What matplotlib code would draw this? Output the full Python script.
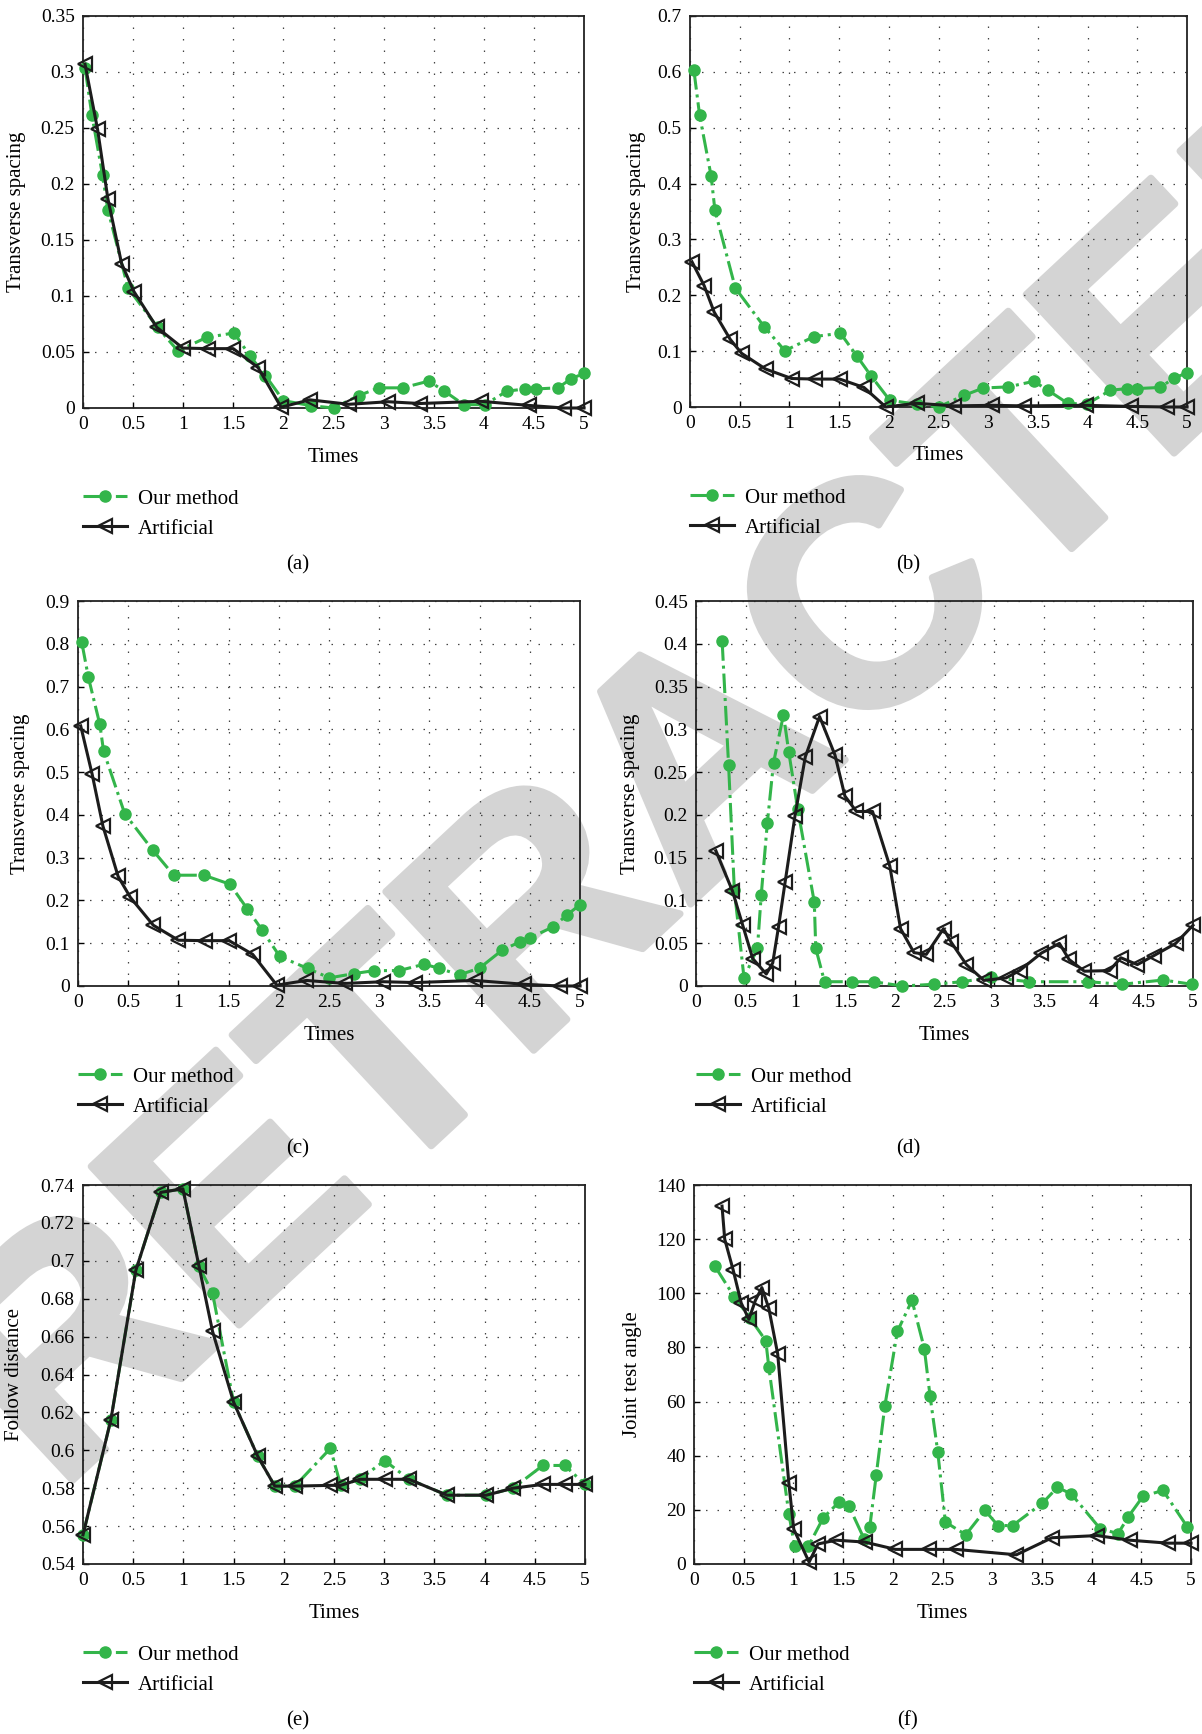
import numpy as np
import matplotlib
matplotlib.use("Agg")
import matplotlib.pyplot as plt
import matplotlib.patheffects as pe
from matplotlib.ticker import FormatStrFormatter

plt.rcParams['font.family'] = ['Liberation Serif', 'DejaVu Serif']

GREEN = '#33b54a'
BLACK = '#1c1c1c'

x_ticks = [0, 0.5, 1, 1.5, 2, 2.5, 3, 3.5, 4, 4.5, 5]

# (a)
a_our_x = [0.02, 0.088, 0.195, 0.248, 0.45, 0.744, 0.947, 1.233, 1.508, 1.67, 1.82, 2.0, 2.28, 2.5,
           2.75, 2.95, 3.19, 3.45, 3.6, 3.8, 4.01, 4.23, 4.41, 4.52, 4.74, 4.87, 5.0]
a_our_y = [0.304, 0.262, 0.208, 0.177, 0.107, 0.072, 0.051, 0.063, 0.067, 0.046, 0.029, 0.0066, 0.002, 0.0,
           0.011, 0.018, 0.018, 0.024, 0.0155, 0.003, 0.003, 0.015, 0.017, 0.017, 0.018, 0.026, 0.031]
a_art_x = [0.02, 0.145, 0.248, 0.385, 0.508, 0.737, 0.996, 1.252, 1.5, 1.748, 1.977, 2.263, 2.653,
           3.046, 3.36, 3.97, 4.45, 4.8, 5.0]
a_art_y = [0.307, 0.249, 0.187, 0.129, 0.104, 0.072, 0.0535, 0.053, 0.053, 0.036, 0.0007, 0.0073, 0.0033,
           0.0056, 0.004, 0.006, 0.0023, 0.0, 0.0]
a_yticks = [0, 0.05, 0.1, 0.15, 0.2, 0.25, 0.3, 0.35]

# (b)
b_our_x = [0.039, 0.097, 0.212, 0.251, 0.456, 0.745, 0.954, 1.247, 1.514, 1.68, 1.82, 2.01, 2.28, 2.5,
           2.76, 2.95, 3.2, 3.46, 3.6, 3.8, 3.99, 4.23, 4.4, 4.5, 4.73, 4.87, 5.0]
b_our_y = [0.603, 0.522, 0.414, 0.352, 0.213, 0.144, 0.1007, 0.126, 0.132, 0.091, 0.056, 0.012, 0.005, 0.0,
           0.021, 0.034, 0.036, 0.046, 0.030, 0.0066, 0.005, 0.030, 0.033, 0.033, 0.035, 0.052, 0.061]
b_art_x = [0.02, 0.143, 0.243, 0.405, 0.52, 0.76, 1.023, 1.26, 1.506, 1.75, 1.97, 2.28, 2.66, 3.04,
           3.36, 3.98, 4.44, 4.8, 5.0]
b_art_y = [0.26, 0.217, 0.170, 0.121, 0.096, 0.068, 0.051, 0.050, 0.050, 0.035, 0.0, 0.0066, 0.002, 0.003,
           0.002, 0.003, 0.001, 0.0, 0.0]
b_yticks = [0, 0.1, 0.2, 0.3, 0.4, 0.5, 0.6, 0.7]

# (c)
c_our_x = [0.038, 0.103, 0.217, 0.255, 0.465, 0.743, 0.953, 1.254, 1.513, 1.684, 1.83, 2.01, 2.287, 2.504,
           2.75, 2.95, 3.197, 3.45, 3.6, 3.8, 4.0, 4.226, 4.4, 4.505, 4.73, 4.87, 5.0]
c_our_y = [0.803, 0.722, 0.612, 0.549, 0.403, 0.318, 0.259, 0.259, 0.238, 0.181, 0.132, 0.069, 0.041, 0.019,
           0.029, 0.036, 0.036, 0.051, 0.041, 0.026, 0.042, 0.084, 0.103, 0.113, 0.138, 0.166, 0.19]
c_art_x = [0.027, 0.141, 0.248, 0.4, 0.522, 0.75, 1.0, 1.265, 1.505, 1.74, 1.98, 2.275, 2.656, 3.04,
           3.36, 3.95, 4.447, 4.8, 5.0]
c_art_y = [0.608, 0.495, 0.374, 0.256, 0.207, 0.142, 0.107, 0.106, 0.106, 0.074, 0.002, 0.013, 0.006, 0.010,
           0.008, 0.013, 0.004, 0.0, 0.0]
c_yticks = [0, 0.1, 0.2, 0.3, 0.4, 0.5, 0.6, 0.7, 0.8, 0.9]

# (d)
d_our_x = [0.263, 0.328, 0.386, 0.483, 0.618, 0.656, 0.718, 0.78, 0.88, 0.934, 1.023, 1.19, 1.205, 1.293,
           1.571, 1.788, 2.077, 2.394, 2.676, 2.97, 3.35, 3.946, 4.286, 4.7, 4.99]
d_our_y = [0.403, 0.258, 0.112, 0.0095, 0.044, 0.106, 0.191, 0.261, 0.317, 0.273, 0.207, 0.098, 0.044, 0.005,
           0.005, 0.005, 0.0, 0.002, 0.005, 0.010, 0.005, 0.005, 0.002, 0.007, 0.002]
d_art_x = [0.2, 0.367, 0.47, 0.571, 0.707, 0.772, 0.83, 0.896, 0.996, 1.1, 1.243, 1.398, 1.498, 1.614,
           1.776, 1.95, 2.058, 2.193, 2.317, 2.49, 2.568, 2.72, 2.896, 3.12, 3.255, 3.475, 3.656, 3.753,
           3.907, 4.16, 4.274, 4.44, 4.606, 4.826, 5.0]
d_art_y = [0.158, 0.111, 0.071, 0.032, 0.014, 0.027, 0.069, 0.121, 0.199, 0.268, 0.315, 0.270, 0.222, 0.204,
           0.204, 0.140, 0.067, 0.039, 0.037, 0.067, 0.051, 0.025, 0.0065, 0.0095, 0.018, 0.0385, 0.0498, 0.031,
           0.0173, 0.018, 0.033, 0.025, 0.0355, 0.0498, 0.071]
d_yticks = [0, 0.05, 0.1, 0.15, 0.2, 0.25, 0.3, 0.35, 0.4, 0.45]

# (e)
e_x = [0.0, 0.278, 0.526, 0.774, 0.995, 1.156, 1.29, 1.5, 1.74, 1.91, 2.11, 2.464, 2.567, 2.757,
       3.005, 3.246, 3.627, 4.016, 4.283, 4.58, 4.798, 5.0]
e_our_y = [0.5554, 0.6162, 0.6949, 0.7361, 0.738, 0.697, 0.683, 0.6254, 0.5969, 0.5811, 0.5811, 0.601, 0.5815,
           0.5847, 0.5946, 0.5847, 0.5763, 0.5763, 0.580, 0.592, 0.592, 0.582]
e_art_y = [0.5554, 0.6162, 0.6949, 0.7361, 0.738, 0.697, 0.6628, 0.6254, 0.5969, 0.5811, 0.5811, 0.5815, 0.5815,
           0.5847, 0.5847, 0.5847, 0.5763, 0.5763, 0.580, 0.582, 0.582, 0.582]
e_yticks = [0.54, 0.56, 0.58, 0.6, 0.62, 0.64, 0.66, 0.68, 0.7, 0.72, 0.74]

# (f)
f_our_x = [0.212, 0.405, 0.56, 0.722, 0.753, 0.954, 1.012, 1.15, 1.301, 1.46, 1.556, 1.71, 1.768, 1.834,
           1.92, 2.046, 2.193, 2.317, 2.375, 2.452, 2.529, 2.734, 2.927, 3.058, 3.205, 3.506, 3.656, 3.795,
           4.085, 4.266, 4.37, 4.517, 4.718, 4.961]
f_our_y = [109.9, 98.7, 91.0, 82.5, 72.6, 18.6, 6.5, 6.5, 17.1, 22.9, 21.6, 9.4, 13.5, 33.0,
           58.4, 85.9, 97.4, 79.6, 62.0, 41.5, 15.5, 10.8, 19.8, 14.2, 14.2, 22.5, 28.3, 25.9,
           13.1, 11.2, 17.5, 25.0, 27.2, 13.8]
f_art_x = [0.282, 0.309, 0.394, 0.475, 0.552, 0.618, 0.683, 0.753, 0.842, 0.954, 1.004, 1.158, 1.247,
           1.429, 1.718, 2.027, 2.367, 2.633, 3.243, 3.602, 4.054, 4.382, 4.768, 5.0]
f_art_y = [132.2, 120.0, 108.6, 96.4, 90.4, 97.4, 102.1, 94.4, 77.6, 29.9, 12.8, 0.7, 7.4,
           8.8, 8.1, 5.4, 5.4, 5.4, 3.4, 9.7, 10.5, 8.8, 7.7, 7.7]
f_yticks = [0, 20, 40, 60, 80, 100, 120, 140]

W, H = 1202, 1734
fig = plt.figure(figsize=(W / 100, H / 100), dpi=100)

# watermark, behind everything
fig.text(690 / W, 1 - 748 / H, 'RETRACTED', rotation=43, rotation_mode='anchor',
         ha='center', va='center_baseline', fontsize=227, fontweight='bold',
         family='Liberation Sans', color='#d4d4d4', zorder=-10,
         path_effects=[pe.withStroke(linewidth=5, foreground='#d4d4d4')])


def panel(box, ox, oy, axx, axy, yticks, ylabel, ylab_off, caption, cap_xy, yfmt):
    l, t, r, b = box
    ax = fig.add_axes([l / W, 1 - b / H, (r - l) / W, (b - t) / H])
    aw, ah = r - l, b - t
    ax.set_facecolor('none')
    ax.plot(ox, oy, color=GREEN, ls='-.', lw=2.2, marker='o', ms=8,
            label='Our method', clip_on=False, zorder=3)
    ax.plot(axx, axy, color=BLACK, ls='-', lw=2.2, marker='<', ms=9.5, mfc='none',
            mec=BLACK, mew=1.6, label='Artificial', clip_on=False, zorder=4)
    ax.set_xlim(0, 5)
    ax.set_ylim(yticks[0], yticks[-1])
    ax.set_xticks(x_ticks)
    ax.set_yticks(yticks)
    ax.xaxis.set_major_formatter(FormatStrFormatter('%g'))
    ax.yaxis.set_major_formatter(FormatStrFormatter(yfmt))
    ax.grid(True, ls=(0, (1.2, 8)), color='#444444', lw=0.9)
    ax.tick_params(direction='in', length=4, width=1, labelsize=14, pad=6,
                   top=False, right=False)
    for s in ax.spines.values():
        s.set_linewidth(1.3)
        s.set_color('#222222')
    ax.set_xlabel('Times', fontsize=15)
    ax.xaxis.set_label_coords(0.5, -49 / ah)
    ax.xaxis.label.set_va('center')
    ax.set_ylabel(ylabel, fontsize=15)
    ax.yaxis.set_label_coords(-ylab_off / aw, 0.5)
    ax.yaxis.label.set_va('center')
    ax.legend(loc='upper left', bbox_to_anchor=(0, -81 / ah), frameon=False,
              borderpad=0, borderaxespad=0, fontsize=15, handlelength=2.1,
              handletextpad=0.55, labelspacing=0.5)
    fig.text(cap_xy[0] / W, 1 - cap_xy[1] / H, caption, ha='center', va='center', fontsize=15)
    return ax


panel((83, 16, 584, 408), a_our_x, a_our_y, a_art_x, a_art_y, a_yticks,
      'Transverse spacing', 66, '(a)', (298, 565), '%g')
panel((690, 16, 1187, 407), b_our_x, b_our_y, b_art_x, b_art_y, b_yticks,
      'Transverse spacing', 54, '(b)', (908, 565), '%g')
panel((78, 601, 580, 986), c_our_x, c_our_y, c_art_x, c_art_y, c_yticks,
      'Transverse spacing', 57, '(c)', (298, 1149), '%g')
panel((696, 601, 1193, 986), d_our_x, d_our_y, d_art_x, d_art_y, d_yticks,
      'Transverse spacing', 66, '(d)', (908, 1149), '%g')
panel((83, 1185, 585, 1564), e_x, e_our_y, e_x, e_art_y, e_yticks,
      'Follow distance', 68, '(e)', (298, 1721), '%g')
panel((694, 1185, 1191, 1564), f_our_x, f_our_y, f_art_x, f_art_y, f_yticks,
      'Joint test angle', 62, '(f)', (908, 1721), '%g')

fig.savefig('out.png', dpi=100)
